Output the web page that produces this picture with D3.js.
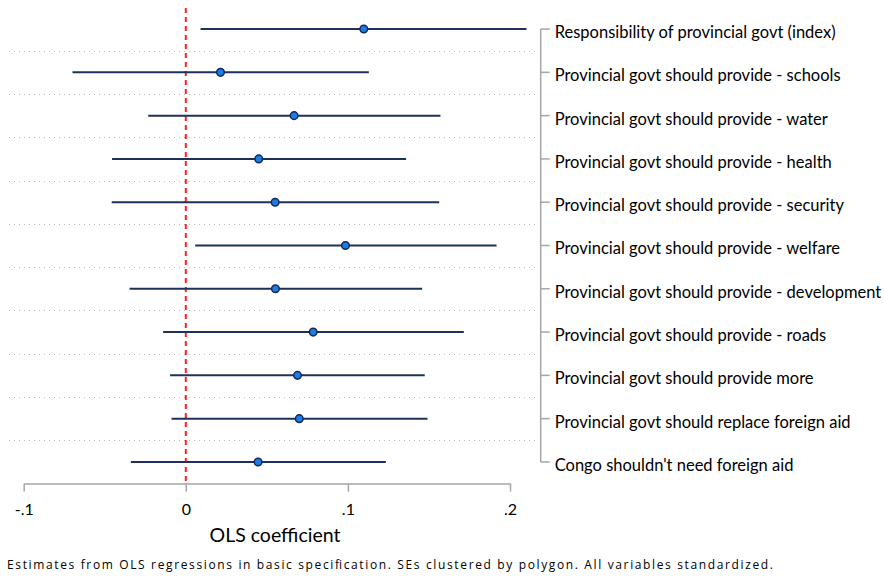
<!DOCTYPE html>
<html>
<head>
<meta charset="utf-8">
<script src="https://cdn.jsdelivr.net/npm/d3@7"></script>
<style>
  body { margin: 0; background: #fff; }
  svg { display: block; font-family: Lato, "Open Sans", sans-serif; }
</style>
</head>
<body>
<svg width="884" height="577"></svg>
<script>

var labels = [
  "Responsibility of provincial govt (index)",
  "Provincial govt should provide - schools",
  "Provincial govt should provide - water",
  "Provincial govt should provide - health",
  "Provincial govt should provide - security",
  "Provincial govt should provide - welfare",
  "Provincial govt should provide - development",
  "Provincial govt should provide - roads",
  "Provincial govt should provide more",
  "Provincial govt should replace foreign aid",
  "Congo shouldn't need foreign aid"
];
var estimates = [0.1098, 0.0214, 0.0668, 0.0450, 0.0551, 0.0985, 0.0553, 0.0786, 0.0689, 0.0700, 0.0446];
var ciLow     = [0.0091, -0.0699, -0.0232, -0.0455, -0.0457, 0.0058, -0.0347, -0.0140, -0.0097, -0.0088, -0.0339];
var ciHigh    = [0.2102, 0.1129, 0.1571, 0.1359, 0.1563, 0.1917, 0.1458, 0.1715, 0.1474, 0.1491, 0.1234];
var xTicks = [-0.1, 0, 0.1, 0.2];
var xTickLabels = ["-.1", "0", ".1", ".2"];

var svg = d3.select("svg");

var rows = labels.map(function(l, i) {
  return { label: l, est: estimates[i], lo: ciLow[i], hi: ciHigh[i] };
});

var x = d3.scaleLinear().domain([-0.1, 0.2]).range([23.7, 510]);
var y = d3.scaleBand().domain(labels).range([7.4, 483.6]).padding(0);
var yc = function(l) { return y(l) + y.bandwidth() / 2; };

var plotLeft = 9, plotRight = 540.7, plotBottom = 483.6;

// dotted separators between rows
svg.append("g")
  .selectAll("line")
  .data(labels.slice(1))
  .enter()
  .append("line")
  .attr("x1", plotLeft)
  .attr("x2", plotRight - 3)
  .attr("y1", function(d) { return Math.round(y(d)) + 0.5; })
  .attr("y2", function(d) { return Math.round(y(d)) + 0.5; })
  .attr("stroke", "#b8b8b8")
  .attr("stroke-width", 1)
  .attr("stroke-dasharray", "1,4");

// zero reference line
svg.append("line")
  .attr("x1", x(0)).attr("x2", x(0))
  .attr("y1", 8).attr("y2", plotBottom)
  .attr("stroke", "#ff2020")
  .attr("stroke-width", 2)
  .attr("stroke-dasharray", "5,4");

// confidence intervals
svg.append("g")
  .selectAll("line")
  .data(rows)
  .enter()
  .append("line")
  .attr("x1", function(d) { return x(d.lo); })
  .attr("x2", function(d) { return x(d.hi); })
  .attr("y1", function(d) { return yc(d.label); })
  .attr("y2", function(d) { return yc(d.label); })
  .attr("stroke", "#1f3158")
  .attr("stroke-width", 2);

// point estimates
svg.append("g")
  .selectAll("circle")
  .data(rows)
  .enter()
  .append("circle")
  .attr("cx", function(d) { return x(d.est); })
  .attr("cy", function(d) { return yc(d.label); })
  .attr("r", 3.8)
  .attr("fill", "#1a7ee6")
  .attr("stroke", "#14295a")
  .attr("stroke-width", 1.5);

// bottom axis
var xAxis = svg.append("g")
  .attr("transform", "translate(0," + plotBottom + ")")
  .call(d3.axisBottom(x)
    .tickValues(xTicks)
    .tickFormat(function(d, i) { return xTickLabels[i]; })
    .tickSize(8)
    .tickSizeOuter(0)
    .tickPadding(12));
xAxis.select(".domain").attr("stroke", "#a6a6a6").attr("stroke-width", 1.5);
xAxis.selectAll(".tick line").attr("stroke", "#a6a6a6").attr("stroke-width", 1.5);
xAxis.selectAll(".tick text")
  .attr("fill", "#000")
  .style("font-family", "Lato, sans-serif")
  .style("font-size", "16px");

svg.append("text")
  .attr("x", 275)
  .attr("y", 542)
  .attr("text-anchor", "middle")
  .style("font-size", "19.5px")
  .text("OLS coefficient");

// right axis with labels
var yAxis = svg.append("g")
  .attr("transform", "translate(" + plotRight + ",0)")
  .call(d3.axisRight(y)
    .tickSize(9)
    .tickSizeOuter(0)
    .tickPadding(5));
yAxis.select(".domain")
  .attr("d", "M0," + yc(labels[0]) + "V" + yc(labels[labels.length - 1]))
  .attr("stroke", "#a6a6a6").attr("stroke-width", 1.5);
yAxis.selectAll(".tick line").attr("stroke", "#a6a6a6").attr("stroke-width", 1.5);
yAxis.selectAll(".tick text")
  .attr("fill", "#000")
  .attr("dy", "0.54em")
  .style("font-family", "Lato, sans-serif")
  .style("font-size", "16.5px");

// footnote
svg.append("text")
  .attr("x", 7)
  .attr("y", 569)
  .attr("textLength", 766)
  .attr("lengthAdjust", "spacing")
  .style("font-family", "'Open Sans', sans-serif")
  .style("font-size", "12px")
  .text("Estimates from OLS regressions in basic specification. SEs clustered by polygon. All variables standardized.");

</script>
</body>
</html>
